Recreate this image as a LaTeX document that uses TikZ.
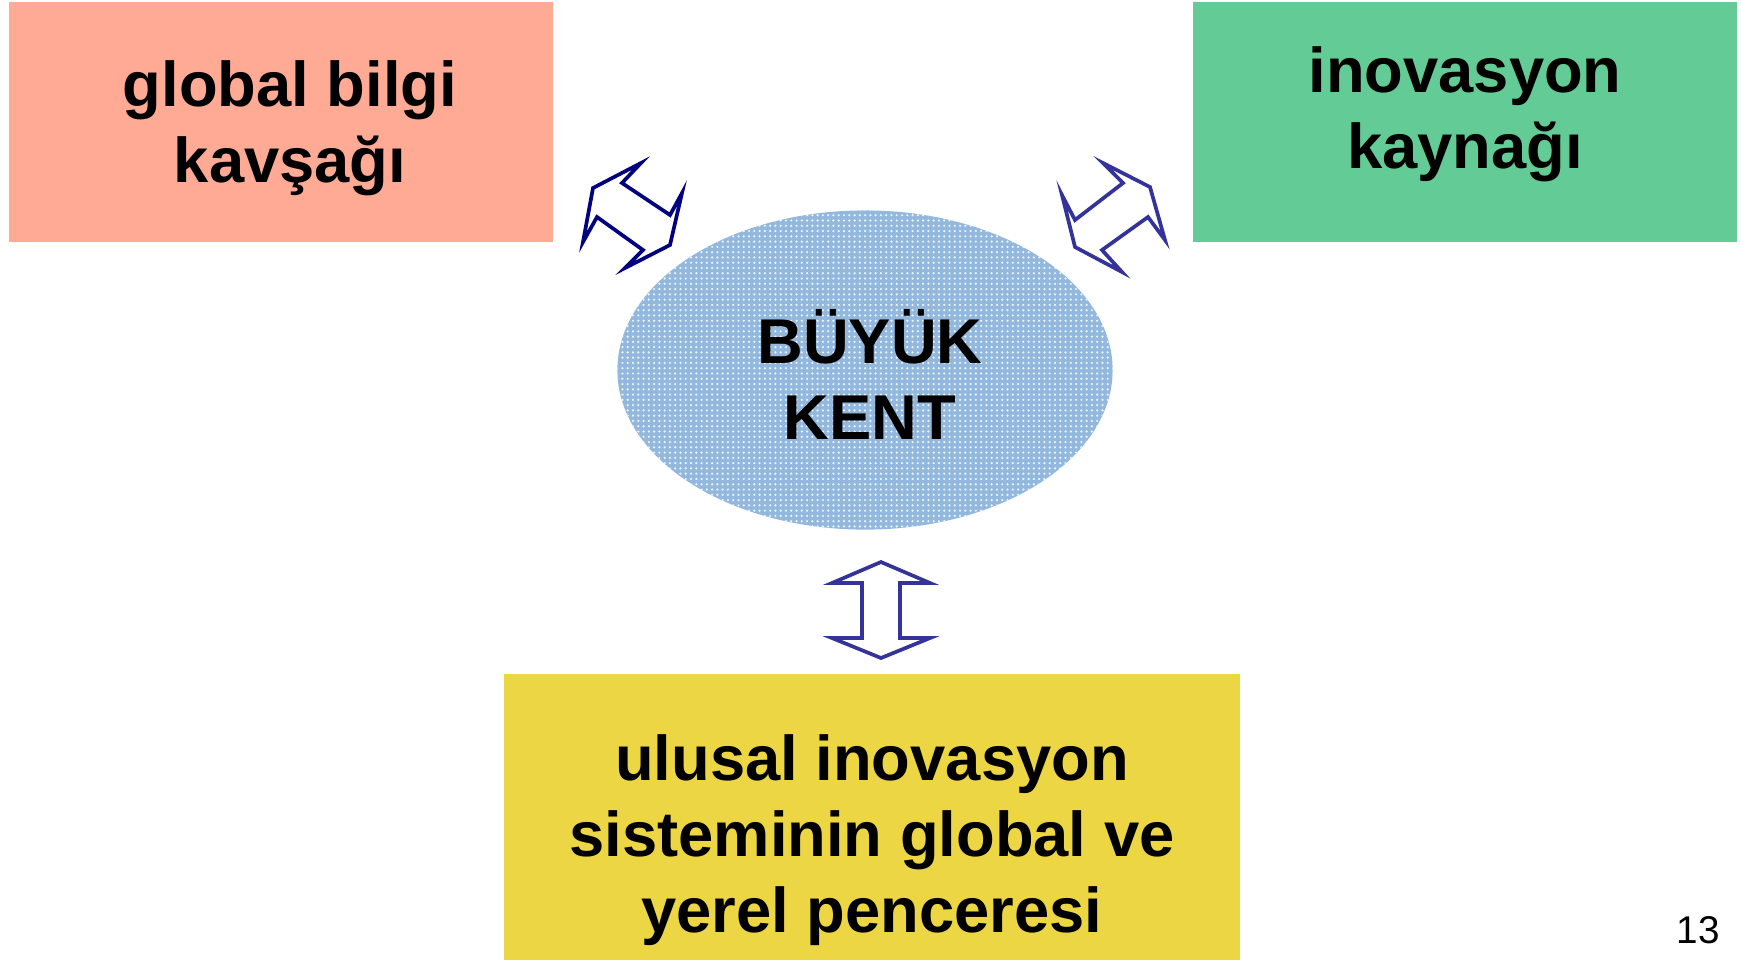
\documentclass[tikz,border=0pt]{standalone}
\usepackage{fontspec}
\setmainfont{Liberation Sans}
\usetikzlibrary{shapes.geometric,patterns.meta}
\definecolor{bilgisalmon}{HTML}{FFAA95}
\definecolor{kaynakgreen}{HTML}{63CB96}
\definecolor{pencereyellow}{HTML}{EDD644}
\definecolor{kentblue}{HTML}{93B8DE}
\definecolor{okdark}{HTML}{000080}
\definecolor{okblue}{HTML}{333399}

\begin{document}
\begin{tikzpicture}[x=0.01cm, y=-0.01cm,
    every node/.style={align=center, inner sep=0pt, outer sep=0pt,
      font=\fontsize{18}{21.6}\selectfont\bfseries},
    kutu/.style={rectangle, fill=#1},
    blockarrow/.style={draw=#1, fill=white, line width=1.05pt, line join=miter}]
      \clip (0,0) rectangle (1741,959);
      \node[kutu=bilgisalmon, minimum width=5.44cm, minimum height=2.4cm] (bilgi) at (281,122) {};
      \node[kutu=kaynakgreen, minimum width=5.44cm, minimum height=2.4cm] (kaynak) at (1465,122) {};
      \node[kutu=pencereyellow, minimum width=7.35cm, minimum height=3.4cm] (pencere) at (872,844) {};
      \node[ellipse, minimum width=4.95cm, minimum height=3.19cm, fill=kentblue,
            postaction={pattern={Dots[distance=1.5pt, radius=0.35pt]}, pattern color=white!85!kentblue}] (kent) at (865,370) {};
      \node (bilgimetin) at (290,128) {global bilgi\\kavşağı};
      \node (kaynakmetin) at (1465,114) {inovasyon\\kaynağı};
      \node (pencerememetin) at (872,840) {ulusal inovasyon\\sisteminin global ve\\yerel penceresi};
      \node (kentmetin) at (870,374) {BÜYÜK\\KENT};
      \draw[blockarrow=okdark] (641,163) -- (622,183) -- (670,215) -- (682,193) -- (670,245) -- (625,268)
            -- (643,250) -- (597,217) -- (583,242) -- (593,188) -- cycle;
      \draw[blockarrow=okblue] (1103,163) -- (1150,187) -- (1165,240) -- (1148,217) -- (1102,250) -- (1122,272)
            -- (1075,247) -- (1062,195) -- (1075,220) -- (1123,183) -- cycle;
      \draw[blockarrow=okblue] (881,562) -- (930,583) -- (900,583) -- (900,638) -- (930,638) -- (881,658)
            -- (832,638) -- (862,638) -- (862,583) -- (832,583) -- cycle;
      \node[font=\fontsize{11}{13}\selectfont] (sayfa) at (1698,930) {13};
\end{tikzpicture}
\end{document}
